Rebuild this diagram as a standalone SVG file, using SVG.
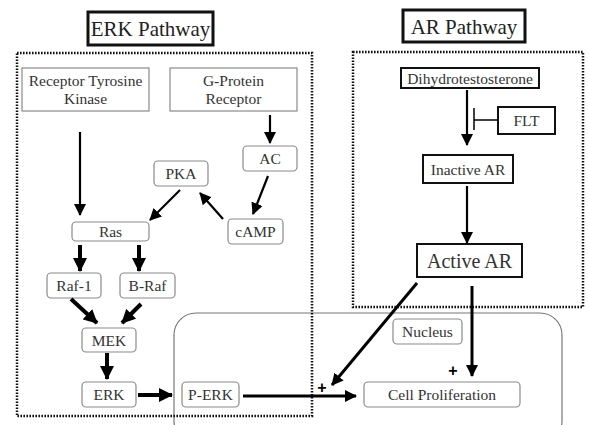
<svg xmlns="http://www.w3.org/2000/svg" width="589" height="425" viewBox="0 0 589 425">
<style>
text{font-family:'Liberation Serif','Times New Roman',Tinos,'DejaVu Serif',serif;font-size:15.5px;fill:#333;text-anchor:middle}
.g{fill:#fff;stroke:#8a8a8a;stroke-width:1.2}
.k{fill:#fff;stroke:#111;stroke-width:2}
.t{fill:#fff;stroke:#111;stroke-width:3}
.dot{fill:none;stroke:#111;stroke-width:2.5;stroke-dasharray:1.6 1.4}
.a{stroke:#000;stroke-width:2.2;fill:none;marker-end:url(#ah)}
.b{stroke:#000;stroke-width:4;fill:none;marker-end:url(#ahb)}
text.plus{font-family:'Liberation Sans',Arial,sans-serif;font-size:16px;font-weight:bold;fill:#000}
</style>
<defs>
<marker id="ah" markerUnits="userSpaceOnUse" markerWidth="12" markerHeight="12" viewBox="0 0 12 12" refX="11" refY="6" orient="auto"><path d="M0,0 L12,6 L0,12 Z" fill="#000"/></marker>
<marker id="ahb" markerUnits="userSpaceOnUse" markerWidth="14" markerHeight="14" viewBox="0 0 14 14" refX="13" refY="7" orient="auto"><path d="M0,0 L14,7 L0,14 Z" fill="#000"/></marker>
</defs>
<rect width="589" height="425" fill="#fff"/>
<g id="nucleus-region"><rect x="174" y="313" width="388" height="130" rx="22" fill="none" stroke="#777" stroke-width="1.2"/></g>
<g id="erk-pathway-box"><rect class="dot" x="17" y="53" width="295" height="363"/></g>
<g id="ar-pathway-box"><rect class="dot" x="353" y="52" width="230" height="255"/></g>
<g id="erk-title"><rect class="t" x="88" y="12" width="125" height="33"/><text x="150.5" y="36" style="font-size:21px;fill:#222">ERK Pathway</text></g>
<g id="ar-title"><rect class="t" x="403" y="10" width="122" height="32"/><text x="464" y="34" style="font-size:21px;fill:#222">AR Pathway</text></g>
<g id="rtk"><rect class="g" x="22" y="68" width="127" height="43"/><text x="85.5" y="86">Receptor Tyrosine</text><text x="85.5" y="104">Kinase</text></g>
<g id="gpr"><rect class="g" x="170" y="68" width="127" height="43"/><text x="233.5" y="86">G-Protein</text><text x="233.5" y="104">Receptor</text></g>
<g id="ac"><rect class="g" x="243" y="146" width="54" height="25" rx="4"/><text x="270" y="164">AC</text></g>
<g id="pka"><rect class="g" x="154" y="161" width="54" height="25" rx="4"/><text x="181" y="179">PKA</text></g>
<g id="camp"><rect class="g" x="228" y="219" width="55" height="25" rx="4"/><text x="255.5" y="237">cAMP</text></g>
<g id="ras"><rect class="g" x="72" y="222" width="77" height="19" rx="4"/><text x="110.5" y="237">Ras</text></g>
<g id="raf1"><rect class="g" x="47" y="273" width="54" height="25" rx="4"/><text x="74" y="291">Raf-1</text></g>
<g id="braf"><rect class="g" x="120" y="273" width="55" height="25" rx="4"/><text x="147.5" y="291">B-Raf</text></g>
<g id="mek"><rect class="g" x="82" y="328" width="54" height="24" rx="4"/><text x="109" y="346">MEK</text></g>
<g id="erk"><rect class="g" x="82" y="382" width="54" height="25" rx="4"/><text x="109" y="400">ERK</text></g>
<g id="perk"><rect class="g" x="182" y="382" width="57" height="25" rx="4"/><text x="210.5" y="400">P-ERK</text></g>
<g id="nucleus"><rect class="g" x="393" y="319" width="69" height="25" rx="4"/><text x="427.5" y="337">Nucleus</text></g>
<g id="cellprolif"><rect class="g" x="364" y="382" width="156" height="25" rx="4"/><text x="442" y="400">Cell Proliferation</text></g>
<g id="dht"><rect class="k" x="401" y="68" width="138" height="20"/><text x="470" y="84">Dihydrotestosterone</text></g>
<g id="flt"><rect class="k" x="498" y="107" width="57" height="27"/><text x="526.5" y="126">FLT</text></g>
<g id="inactive-ar"><rect class="k" x="423" y="155" width="90" height="28"/><text x="468" y="175">Inactive AR</text></g>
<g id="active-ar"><rect class="k" x="417" y="244" width="105" height="33"/><text x="469.5" y="268" style="font-size:20px">Active AR</text></g>
<g id="connectors">
<line class="a" x1="80" y1="132" x2="80" y2="215"/>
<line class="a" x1="270" y1="115" x2="270" y2="143"/>
<line class="a" x1="268" y1="176" x2="253" y2="214"/>
<line class="a" x1="223" y1="219" x2="200" y2="193"/>
<line class="a" x1="180" y1="190" x2="150" y2="220"/>
<line class="b" x1="80" y1="245" x2="80" y2="271"/>
<line class="b" x1="139" y1="245" x2="139" y2="271"/>
<line class="b" x1="71" y1="299" x2="97" y2="323"/>
<line class="b" x1="141" y1="304" x2="122" y2="323"/>
<line class="b" x1="107" y1="353" x2="107" y2="379"/>
<line class="b" x1="138" y1="395" x2="172" y2="395"/>
<line class="a" x1="243" y1="396" x2="356" y2="396" style="stroke-width:3"/>
<line class="a" x1="467" y1="90" x2="467" y2="145"/>
<line x1="474" y1="108" x2="474" y2="130" stroke="#000" stroke-width="1.5"/>
<line x1="474" y1="120" x2="498" y2="120" stroke="#000" stroke-width="1.5"/>
<line class="a" x1="467" y1="186" x2="467" y2="243"/>
<line class="a" x1="472" y1="286" x2="472" y2="376" style="stroke-width:3"/>
<line class="a" x1="417" y1="283" x2="332" y2="385" style="stroke-width:3"/>
<text class="plus" x="322" y="393">+</text>
<text class="plus" x="453" y="376">+</text>
</g>
</svg>
